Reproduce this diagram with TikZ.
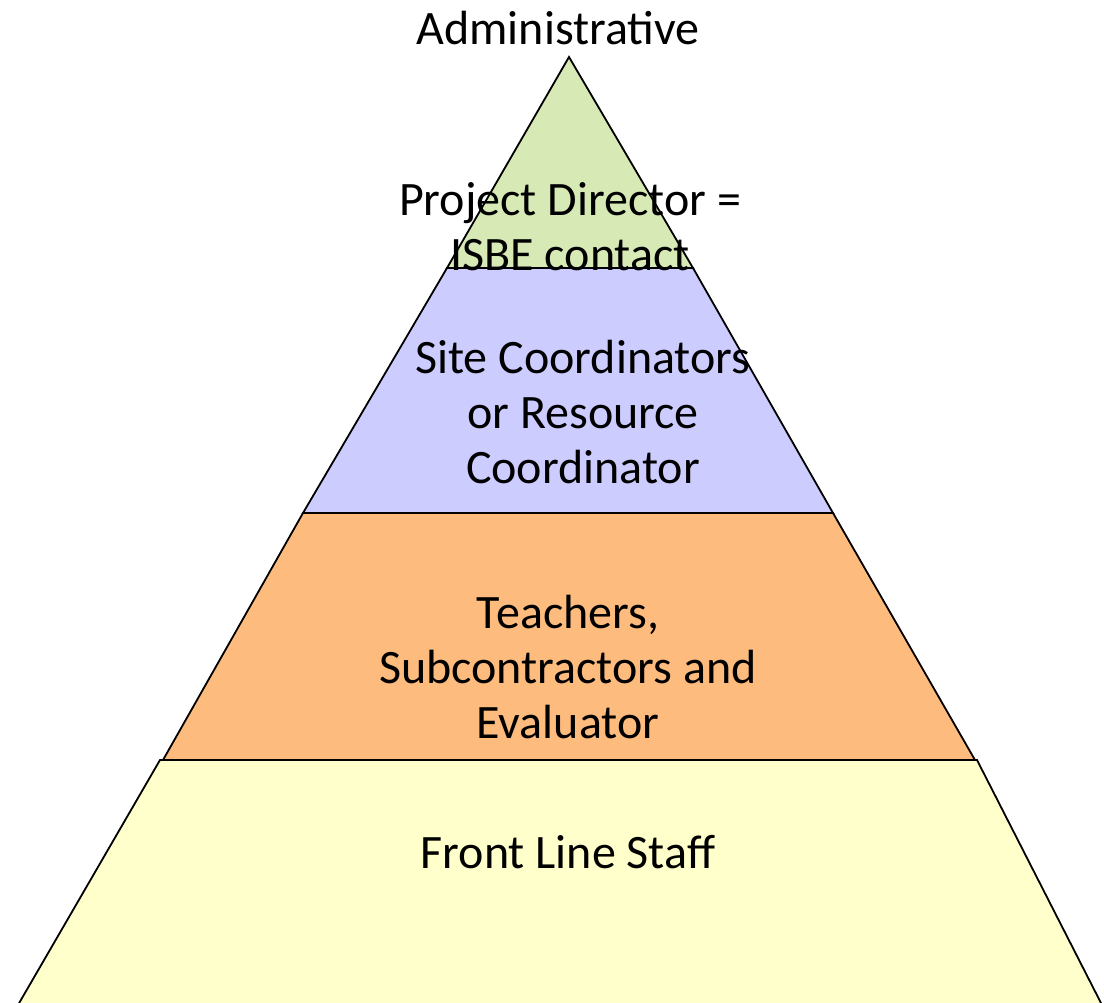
\documentclass[tikz,border=0pt]{standalone}
\usepackage{fontspec}
\setmainfont{Carlito}

\definecolor{topgreen}{HTML}{D7E9B5}
\definecolor{siteblue}{HTML}{CCCCFF}
\definecolor{teachorange}{HTML}{FDBB7D}
\definecolor{frontyellow}{HTML}{FFFFCC}

\begin{document}
\begin{tikzpicture}[x = 1pt, y = -1pt,
	layer/.style = {draw = black, line width = 1.8pt, line join = miter},
	tier/.style = {align = center, inner sep = 0pt, font = \fontsize{48}{55}\selectfont}]

	% Picture frame
	
	\useasboundingbox (0, 0) rectangle (1104, 1003);
	
	% The four layers, top to bottom
	
	\filldraw [layer, fill = topgreen] (569, 57) -- (693, 268) -- (447, 268) -- cycle;
	\filldraw [layer, fill = siteblue] (447, 268) -- (693, 268) -- (833, 513) -- (303, 513) -- cycle;
	\filldraw [layer, fill = teachorange] (303, 513) -- (833, 513) -- (975, 760) -- (163, 760) -- cycle;
	\filldraw [layer, fill = frontyellow] (160, 760) -- (977, 760) -- (1102, 1005) -- (18, 1005) -- cycle;
	
	% Labels
	
	\node [tier] (admin) at (558, 28) {Administrative};
	\node [tier] (director) at (570, 227) {Project Director =\\ISBE contact};
	\node [tier] (site) at (583, 412) {Site Coordinators\\or Resource\\Coordinator};
	\node [tier] (teachers) at (568, 667) {Teachers,\\Subcontractors and\\Evaluator};
	\node [tier] (front) at (568, 852) {Front Line Staff};
		
\end{tikzpicture}
\end{document}
